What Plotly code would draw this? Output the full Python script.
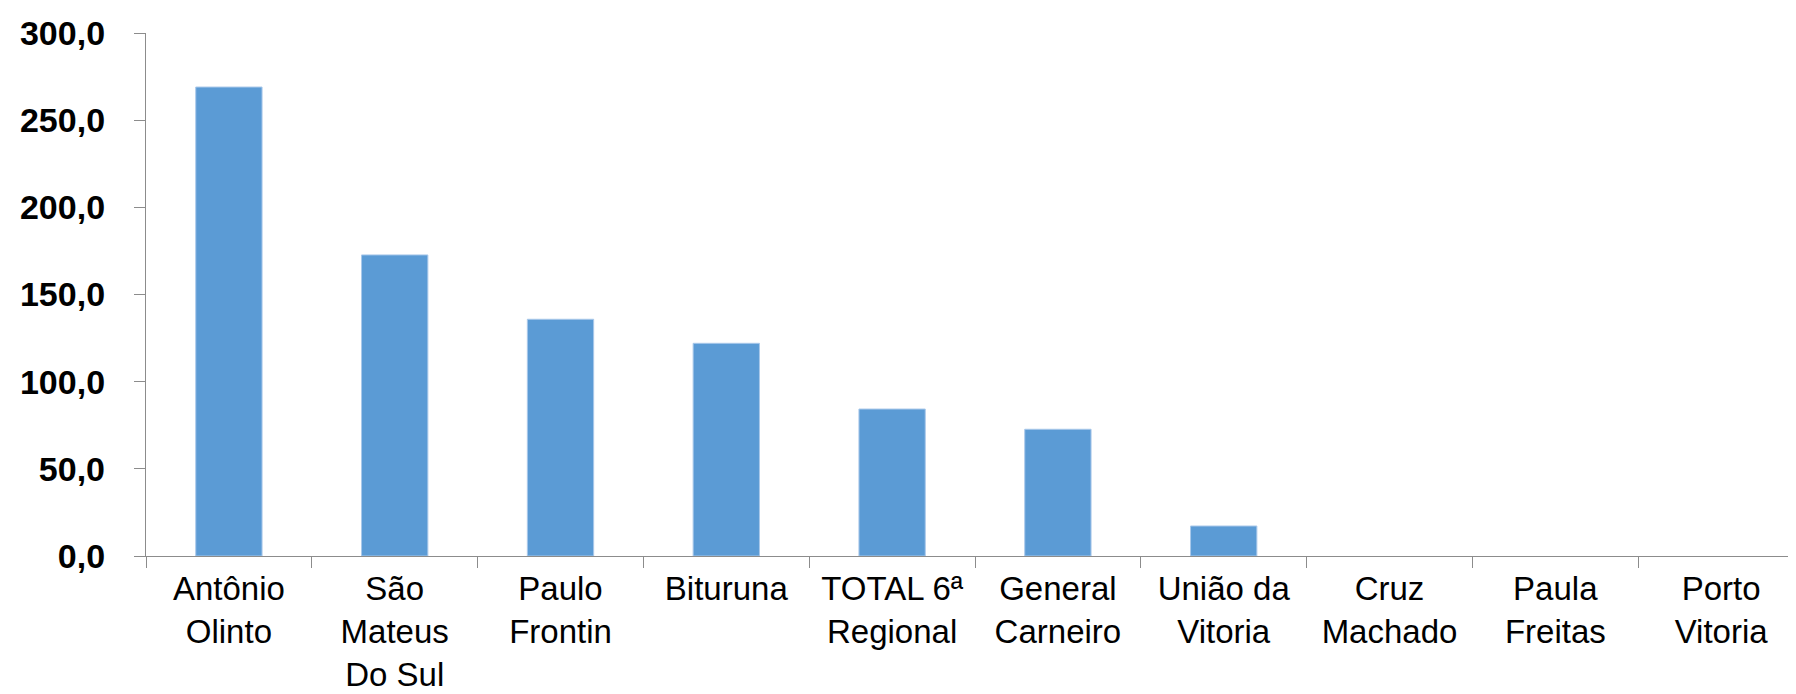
import plotly.graph_objects as go

categories = ["Antônio<br>Olinto", "São<br>Mateus<br>Do Sul", "Paulo<br>Frontin", "Bituruna",
              "TOTAL 6ª<br>Regional", "General<br>Carneiro", "União da<br>Vitoria",
              "Cruz<br>Machado", "Paula<br>Freitas", "Porto<br>Vitoria"]
values = [269.0, 172.7, 135.8, 122.0, 84.3, 72.7, 17.2, 0.0, 0.0, 0.0]
y_ticks = [0, 50, 100, 150, 200, 250, 300]

edge_widths = [1 if v > 0 else 0 for v in values]

fig = go.Figure(go.Bar(
    x=categories, y=values, width=0.4,
    marker=dict(color="#5B9BD5", line=dict(color="#A9C8EA", width=edge_widths)),
))

axis_color = "#8C8C8C"
fig.update_layout(
    width=1796, height=694,
    margin=dict(l=138, r=0, t=25, b=146, pad=0),
    paper_bgcolor="white", plot_bgcolor="white",
    separators=",.",
    showlegend=False,
    font=dict(family="Liberation Sans, Arial, sans-serif", color="black"),
)
fig.update_xaxes(
    type="category", showline=True, linecolor=axis_color, linewidth=1.3,
    ticks="outside", tickson="boundaries", ticklen=11, tickcolor=axis_color, tickwidth=1.3,
    tickfont=dict(size=33, color="black"), showgrid=False, zeroline=False,
    ticklabelstandoff=3, automargin=False,
)
fig.update_yaxes(
    range=[0, 300], tickvals=y_ticks, tickformat=".1f",
    showline=True, linecolor=axis_color, linewidth=1.3,
    ticks="outside", ticklen=11, tickcolor=axis_color, tickwidth=1.3,
    tickfont=dict(size=34, color="black", weight="bold"), showgrid=False, zeroline=False,
    ticklabelstandoff=22, automargin=False,
)

fig.write_html("out.html")
